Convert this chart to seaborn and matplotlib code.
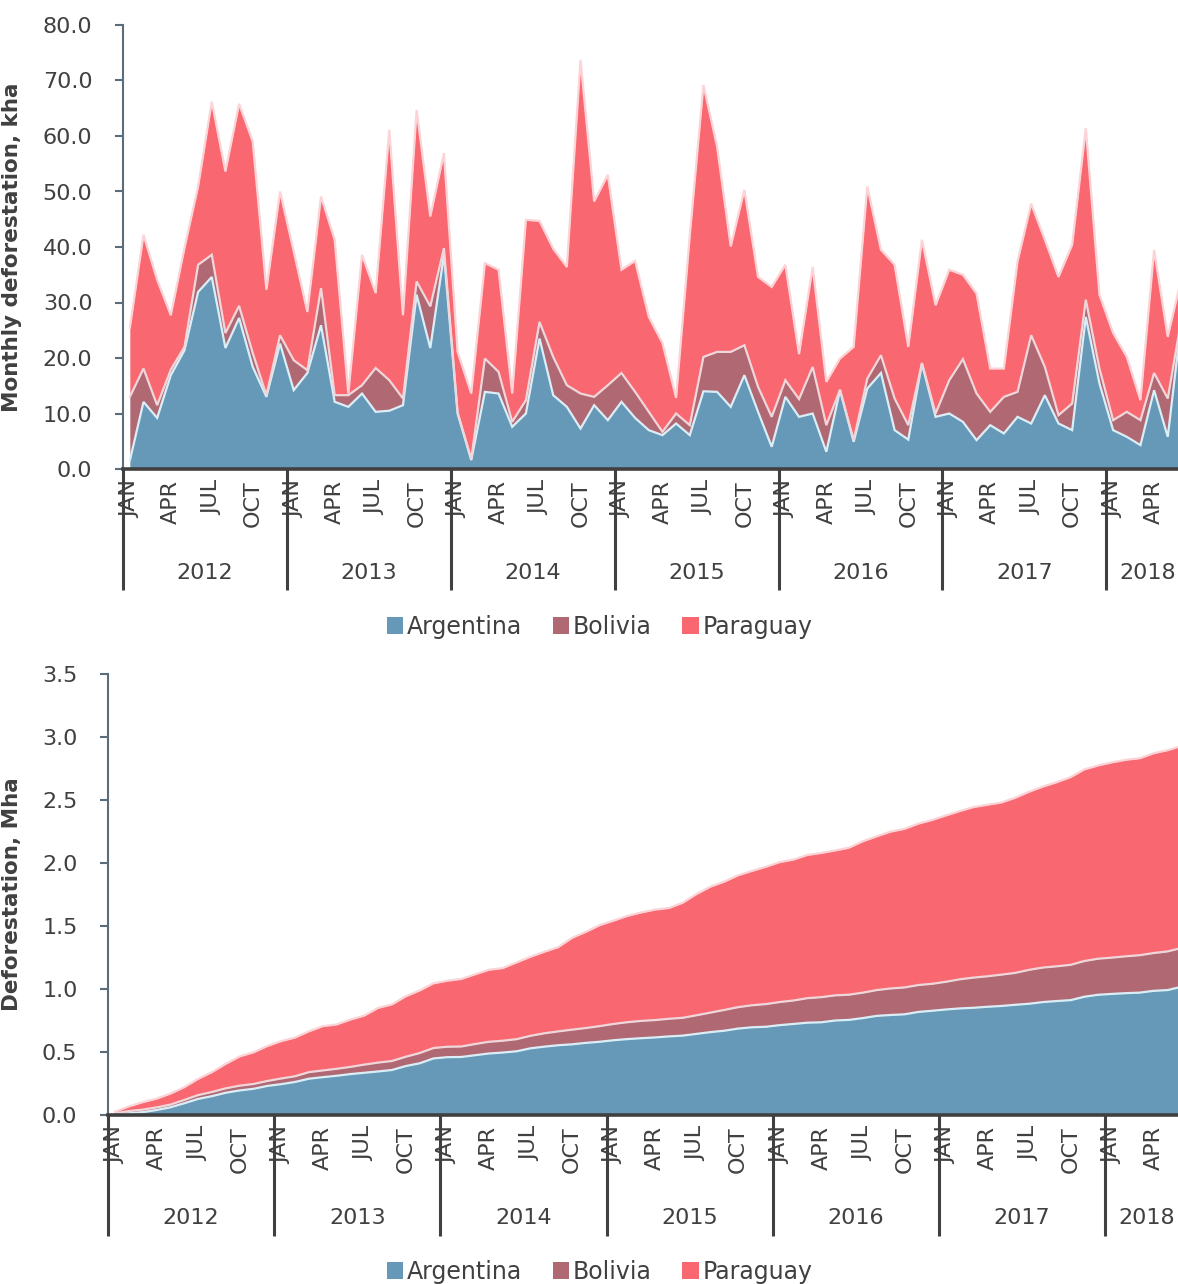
import matplotlib
matplotlib.use("Agg")
import matplotlib.pyplot as plt
import matplotlib.transforms as mtransforms
from matplotlib.patches import Patch
from matplotlib.ticker import FormatStrFormatter
import numpy as np
import seaborn as sns

# monthly deforestation (kha), Jan 2012 - Jun 2018
years = ["2012", "2013", "2014", "2015", "2016", "2017", "2018"]
month_names = ["JAN", "FEB", "MAR", "APR", "MAY", "JUN",
               "JUL", "AUG", "SEP", "OCT", "NOV", "DEC"]
countries = ["Argentina", "Bolivia", "Paraguay"]

argentina = [1.5, 12.1, 9.2, 16.9, 21.4, 31.9, 34.6, 21.8, 27.2, 18.4, 13.0, 22.6,
             14.2, 17.3, 25.9, 12.1, 11.2, 13.6, 10.3, 10.5, 11.5, 31.4, 21.8, 38.6,
             10.0, 1.6, 13.9, 13.6, 7.6, 10.0, 23.5, 13.3, 11.2, 7.3, 11.5, 8.8,
             12.1, 9.2, 7.0, 6.1, 8.2, 6.1, 14.0, 13.9, 11.2, 16.9, 10.3, 4.0,
             13.0, 9.4, 10.0, 3.1, 14.2, 4.9, 14.5, 17.3, 7.0, 5.3, 19.0, 9.4,
             10.0, 8.5, 5.2, 7.9, 6.4, 9.4, 8.2, 13.3, 8.2, 7.0, 27.4, 15.4,
             7.0, 5.8, 4.3, 14.2, 5.8, 26.7]
bolivia = [11.5, 6.0, 2.3, 1.0, 0.6, 4.9, 4.0, 2.7, 2.2, 2.5, 0.3, 1.5,
           5.4, 0.5, 6.7, 1.2, 2.1, 1.5, 7.9, 5.5, 1.2, 2.4, 7.5, 1.2,
           0.2, 0.2, 6.0, 3.9, 0.9, 2.4, 3.0, 6.9, 3.9, 6.3, 1.5, 6.3,
           5.2, 4.7, 3.3, 0.6, 1.8, 1.8, 6.2, 7.2, 9.9, 5.4, 4.5, 5.4,
           3.0, 3.2, 8.4, 4.8, 0.1, 0.3, 1.8, 3.2, 5.7, 2.6, 0.1, 0.6,
           6.0, 11.3, 8.4, 2.4, 6.6, 4.5, 15.9, 5.1, 1.5, 4.8, 3.1, 2.7,
           1.8, 4.5, 4.5, 3.1, 6.9, 0.4]
paraguay = [12.4, 24.1, 22.6, 9.8, 17.8, 14.1, 27.6, 29.1, 36.4, 38.1, 19.0, 25.9,
            19.6, 10.5, 16.5, 28.0, 0.3, 23.5, 13.5, 45.1, 15.0, 30.9, 16.2, 17.1,
            10.9, 11.8, 17.2, 18.4, 5.1, 32.5, 18.2, 19.5, 21.3, 60.1, 35.2, 37.9,
            18.6, 23.6, 17.1, 16.0, 2.8, 34.1, 49.0, 37.0, 19.0, 28.0, 19.8, 23.4,
            20.8, 8.1, 18.0, 7.8, 5.6, 16.8, 34.6, 19.0, 24.1, 14.1, 22.2, 19.5,
            19.9, 15.2, 18.0, 7.8, 5.1, 23.5, 23.7, 22.9, 24.9, 28.6, 30.9, 13.3,
            15.7, 9.9, 3.6, 22.2, 11.1, 7.3]

colors = ["#6699B8", "#B06873", "#F96770"]
edge_colors = ["#D9EEF6", "#EFD6DA", "#FCD3D6"]
axis_grey = "#404040"
slate = "#5B6C7A"

sns.set_theme(style="white")
plt.rcParams["font.family"] = ["DejaVu Sans"]

monthly = np.array([argentina, bolivia, paraguay])
cumulative = np.cumsum(monthly, axis=1) / 1000.0  # Mha
n = monthly.shape[1]
x = np.arange(n)


def draw_stack(ax, data):
    ax.stackplot(x, *data, colors=colors, linewidth=0)
    tops = np.cumsum(data, axis=0)
    for row, ec in zip(tops, edge_colors):
        ax.plot(x, row, color=ec, lw=1.6, solid_joinstyle="miter")


def style_axes(ax, ylabel, yticks, fmt, label_x):
    ax.set_xlim(-0.5, 76.75)
    ax.set_ylim(yticks[0], yticks[-1])
    ax.set_yticks(yticks)
    ax.yaxis.set_major_formatter(FormatStrFormatter(fmt))
    ax.tick_params(axis="y", direction="out", length=6, width=1.5, color=slate,
                   pad=16, labelsize=16, labelcolor=axis_grey, left=True)

    # year separators as long major ticks, month names as minor labels
    ax.set_xticks(np.arange(-0.5, n, 12))
    ax.set_xticklabels([])
    ax.tick_params(axis="x", which="major", direction="out", length=87,
                   width=2.2, color=axis_grey, bottom=True)
    ax.set_xticks(np.arange(0, n, 3), minor=True)
    ax.set_xticklabels([month_names[i % 12] for i in range(0, n, 3)],
                       minor=True, rotation=90)
    ax.tick_params(axis="x", which="minor", length=0, pad=8, labelsize=16,
                   labelcolor=axis_grey)

    trans = mtransforms.blended_transform_factory(ax.transData, ax.transAxes)
    for k, yr in enumerate(years):
        start = 12 * k - 0.5
        end = min(start + 12, n - 0.5)
        ax.text((start + end) / 2, -0.234, yr, transform=trans, ha="center",
                va="center", fontsize=16, color=axis_grey)

    for side in ["top", "right"]:
        ax.spines[side].set_visible(False)
    ax.spines["left"].set_color(slate)
    ax.spines["left"].set_linewidth(1.5)
    ax.spines["bottom"].set_color(axis_grey)
    ax.spines["bottom"].set_linewidth(2.6)
    ax.grid(False)

    ax.set_ylabel(ylabel, fontsize=15.5, fontweight="bold", color=axis_grey)
    ax.yaxis.set_label_coords(label_x, 0.5)


fig = plt.figure(figsize=(11.78, 12.84), dpi=100)
W, H = 1178, 1284

ax1 = fig.add_axes([123 / W, 1 - 469 / H, (W - 123) / W, 444 / H])
draw_stack(ax1, monthly)
style_axes(ax1, "Monthly deforestation, kha", np.arange(0, 80.1, 10), "%.1f", -0.096)

ax2 = fig.add_axes([108 / W, 1 - 1115 / H, (W - 108) / W, 441 / H])
draw_stack(ax2, cumulative)
style_axes(ax2, "Deforestation, Mha", np.arange(0, 3.51, 0.5), "%.1f", -0.080)

handles = [Patch(facecolor=c, edgecolor="none") for c in colors]
for yc in [1 - 627 / H, 1 - 1272 / H]:
    fig.legend(handles, countries, loc="center", bbox_to_anchor=(0.509, yc),
               ncol=3, frameon=False, fontsize=17, handlelength=0.7,
               handleheight=0.7, handletextpad=0.15, columnspacing=1.3,
               labelcolor=axis_grey)

fig.savefig("out.png", dpi=100)
